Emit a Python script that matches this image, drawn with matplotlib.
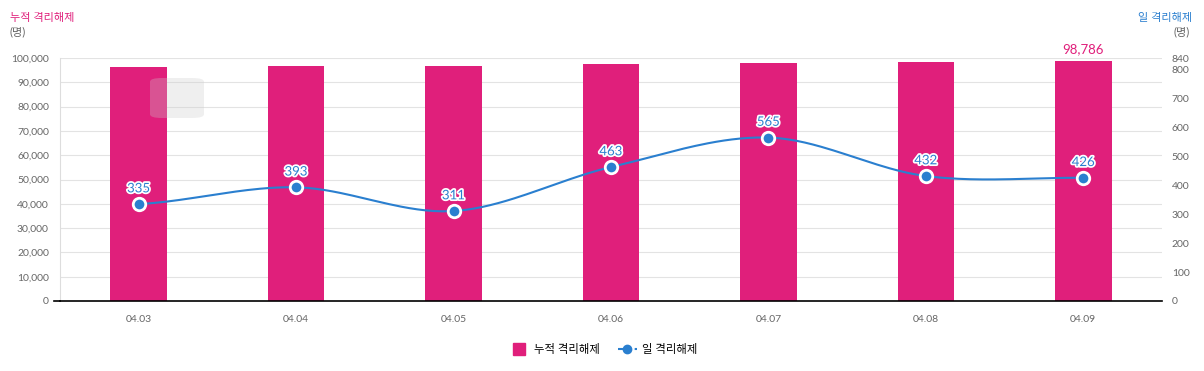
import matplotlib
matplotlib.use("Agg")
import matplotlib.pyplot as plt
import matplotlib.patheffects as pe
from matplotlib.patches import FancyBboxPatch
import numpy as np

plt.rcParams['font.family'] = ['Lato', 'Noto Sans CJK KR', 'DejaVu Sans']

### data ###
dates = ["04.03", "04.04", "04.05", "04.06", "04.07", "04.08", "04.09"]
cum_release = [96196, 96589, 96900, 97363, 97928, 98360, 98786]
daily_release = [335, 393, 311, 463, 565, 432, 426]
right_ticks = [0, 100, 200, 300, 400, 500, 600, 700, 800, 840]

PINK = "#e01f7b"
BLUE = "#2a7fcf"
GRAY = "#666666"

def spline(xs, ys, n=40, tension=0.5):  # cardinal spline through the points
  xs = np.asarray(xs, float)
  ys = np.asarray(ys, float)
  out_x, out_y = [], []
  for i in range(len(xs) - 1):
    p0 = ys[i - 1] if i > 0 else ys[i]
    p3 = ys[i + 2] if i + 2 < len(ys) else ys[i + 1]
    m1 = tension * (ys[i + 1] - p0)
    m2 = tension * (p3 - ys[i])
    t = np.linspace(0, 1, n)
    h00 = 2*t**3 - 3*t**2 + 1
    h10 = t**3 - 2*t**2 + t
    h01 = -2*t**3 + 3*t**2
    h11 = t**3 - t**2
    out_y.extend(h00*ys[i] + h10*m1 + h01*ys[i+1] + h11*m2)
    out_x.extend(xs[i] + t * (xs[i+1] - xs[i]))
  return out_x, out_y

fig = plt.figure(figsize=(12.04, 3.71), dpi=100)
ax = fig.add_axes([60/1204, 70/371, 1102/1204, 243/371])
ax2 = ax.twinx()

x = np.arange(len(dates))
ax.bar(x, cum_release, width=0.36, color=PINK, zorder=2)
ax.set_xlim(-0.5, len(dates) - 0.5)
ax.set_ylim(0, 100000)
ax.set_yticks(range(0, 100001, 10000))
ax.set_yticklabels([f"{v:,}" for v in range(0, 100001, 10000)])
ax.set_xticks(x)
ax.set_xticklabels(dates)
ax.grid(axis='y', color='#e3e3e3', lw=0.8, zorder=0)
ax.set_axisbelow(True)
for s in ['top', 'right']:
  ax.spines[s].set_visible(False)
ax.spines['left'].set_color('#dddddd')
ax.spines['bottom'].set_color('black')
ax.spines['bottom'].set_linewidth(1.2)
ax.tick_params(axis='y', colors=GRAY, labelsize=7.5, length=0, pad=8)
ax.tick_params(axis='x', colors=GRAY, labelsize=7.5, length=0, pad=10)
# short black tick at zero
ax.plot([-0.5 - 6/157, -0.5], [0, 0], color='black', lw=1.2, clip_on=False, zorder=5)
ax.annotate(f"{cum_release[-1]:,}", (x[-1], cum_release[-1]), xytext=(0, 4),
            textcoords='offset points', ha='center', va='bottom', color=PINK, fontsize=9.5)

# faint tooltip ghost
tip = FancyBboxPatch((150/1204, 1 - 118/371), 54/1204, 40/371, boxstyle="round,pad=0,rounding_size=0.01",
                     transform=fig.transFigure, facecolor='#cccccc', alpha=0.3, edgecolor='none', zorder=5)
fig.patches.append(tip)

sx, sy = spline(x, daily_release)
ax2.plot(sx, sy, color=BLUE, lw=1.5, zorder=3)
ax2.plot(x, daily_release, 'o', ms=9, mfc=BLUE, mec='white', mew=2, zorder=4)
for xi, v in zip(x, daily_release):
  ax2.annotate(str(v), (xi, v), xytext=(0, 7), textcoords='offset points', ha='center', va='bottom',
               color=BLUE, fontsize=9.5, path_effects=[pe.withStroke(linewidth=2.5, foreground='white')])
ax2.set_ylim(0, 840)
ax2.set_yticks(right_ticks)
ax2.tick_params(axis='y', colors=GRAY, labelsize=7.5, length=0, pad=7)
for s in ['top', 'right', 'left', 'bottom']:
  ax2.spines[s].set_visible(False)

fig.text(10/1204, 1 - 17/371, "누적 격리해제", color=PINK, fontsize=8, va='center')
fig.text(10/1204, 1 - 32/371, "(명)", color=GRAY, fontsize=8, va='center')
fig.text(1192/1204, 1 - 17/371, "일 격리해제", color=BLUE, fontsize=8, va='center', ha='right')
fig.text(1190/1204, 1 - 32/371, "(명)", color=GRAY, fontsize=8, va='center', ha='right')

# legend
handles = [plt.Line2D([], [], marker='s', ls='none', color=PINK, ms=9),
           plt.Line2D([], [], marker='o', ls=(0, (2.5, 1.5)), color=BLUE, ms=6, lw=1.5)]
fig.legend(handles, ["누적 격리해제", "일 격리해제"], loc='center', bbox_to_anchor=(604/1204, 1 - 349/371),
           ncol=2, frameon=False, fontsize=8.2, handlelength=1.6, columnspacing=1.6, handletextpad=0.5)

plt.savefig("out.png", dpi=100)
